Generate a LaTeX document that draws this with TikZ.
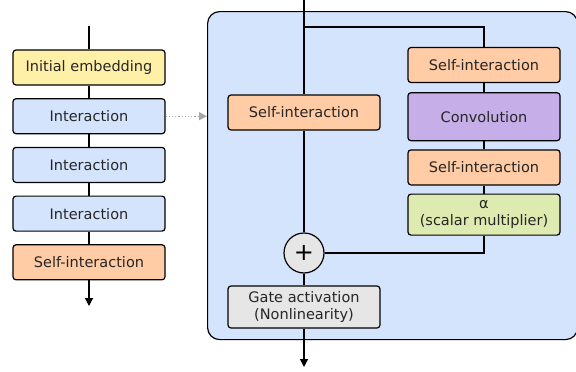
\documentclass[tikz,border=0pt]{standalone}
\usepackage{fontspec}
\setmainfont{DejaVu Sans}
\usetikzlibrary{positioning,arrows.meta}

\definecolor{embedcol}{HTML}{FFF0A8}
\definecolor{intercol}{HTML}{D5E4FD}
\definecolor{selfcol}{HTML}{FFCCA6}
\definecolor{convcol}{HTML}{C6AEE8}
\definecolor{alphacol}{HTML}{DDEAB0}
\definecolor{gatecol}{HTML}{E6E6E6}
\definecolor{outercol}{HTML}{D5E4FD}

\begin{document}
\begin{tikzpicture}[x=1pt,y=-1pt,>={Triangle[width=8pt,length=8pt]},
    line width=1.2pt,node distance=12.5pt,
    block/.style={draw,rounded corners=3pt,minimum width=152pt,minimum height=35pt,
      inner sep=0pt,align=center,text=black!85,font=\fontsize{14.5}{17.5}\selectfont}]

  \useasboundingbox (0,0) rectangle (576,372);

  % expanded interaction block
  \node[draw,rounded corners=12pt,fill=outercol,minimum width=370pt,
    minimum height=328pt,anchor=north west] (inter) at (207,11) {};

  % left column
  \coordinate (lin) at (89,26);
  \node[block,fill=embedcol] (embed) at (89,67.5) {Initial embedding};
  \node[block,fill=intercol,below=of embed] (int1) {Interaction};
  \node[block,fill=intercol,below=of int1] (int2) {Interaction};
  \node[block,fill=intercol,below=of int2] (int3) {Interaction};
  \node[block,fill=selfcol,below=of int3] (selfout) {Self-interaction};
  \coordinate (lout) at (89,306);

  \draw (lin) -- (embed);
  \draw (embed) -- (int1);
  \draw (int1) -- (int2);
  \draw (int2) -- (int3);
  \draw (int3) -- (selfout);
  \draw[->] (selfout) -- (lout);

  \draw[->,dotted,gray!70] (int1.east) -- (inter.west |- int1.east);

  % inside the interaction block
  \coordinate (rin) at (304,0);
  \coordinate (split) at (304,27);
  \node[block,fill=selfcol] (selfl) at (304,112.5) {Self-interaction};
  \node[block,fill=selfcol] (selfr1) at (484,65) {Self-interaction};
  \node[block,fill=convcol,minimum height=48pt,below=9pt of selfr1] (conv) {Convolution};
  \node[block,fill=selfcol,below=8pt of conv] (selfr2) {Self-interaction};
  \node[block,fill=alphacol,minimum height=41pt,below=8pt of selfr2] (alpha)
    {α\\(scalar multiplier)};
  \node[circle,draw,fill=gatecol,minimum size=40pt,inner sep=0pt,
    font=\fontsize{24}{24}\selectfont] (sum) at (304,253) {+};
  \node[block,fill=gatecol,minimum height=42pt] (gate) at (304,307)
    {Gate activation\\(Nonlinearity)};
  \coordinate (rout) at (304,367);

  \draw (rin) -- (selfl);
  \draw (selfl) -- (sum);
  \draw (split) -| (selfr1);
  \draw (selfr1) -- (conv);
  \draw (conv) -- (selfr2);
  \draw (selfr2) -- (alpha);
  \draw (alpha) |- (sum);
  \draw (sum) -- (gate);
  \draw[->] (gate) -- (rout);
\end{tikzpicture}
\end{document}
